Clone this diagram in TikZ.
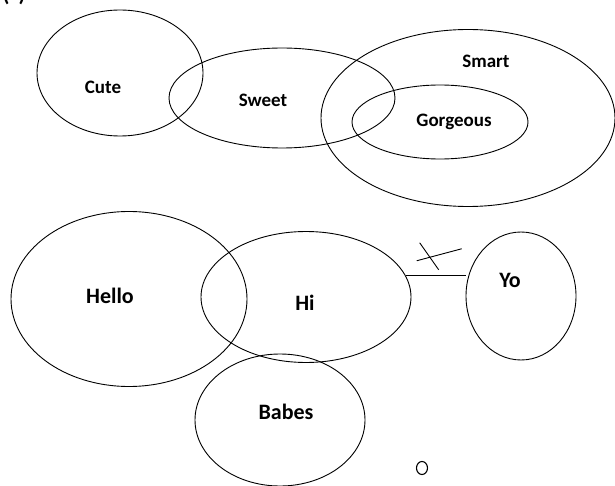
\documentclass[tikz,border=0pt]{standalone}
\usepackage{fontspec}
\setmainfont{Carlito}
\usetikzlibrary{shapes.geometric}

\begin{document}
\begin{tikzpicture}[
    x=1pt, y=-1pt,
    blob/.style={draw, ellipse, inner sep=0pt, line width=0.9pt},
    biglabel/.style={anchor=base, font=\bfseries\fontsize{22}{24}\selectfont},
    smalllabel/.style={anchor=base, font=\bfseries\fontsize{19}{21}\selectfont}
]
    \useasboundingbox (0,0) rectangle (615,486);

    % cut-off caption
    \node[biglabel] (caption) at (14,2) {(\hspace{9pt})};

    % upper group
    \node[blob, minimum width=166, minimum height=126] (cute) at (120,73) {};
    \node[blob, minimum width=226, minimum height=100] (sweet) at (282,98) {};
    \node[blob, minimum width=294, minimum height=177] (smart) at (468,118) {};
    \node[blob, minimum width=176, minimum height=74] (gorgeous) at (440,122) {};

    \node[smalllabel] (cutelbl) at (103,94) {Cute};
    \node[smalllabel] (sweetlbl) at (263,107) {Sweet};
    \node[smalllabel] (smartlbl) at (486,68) {Smart};
    \node[smalllabel] (gorgeouslbl) at (454,127) {Gorgeous};

    % lower group
    \node[blob, minimum width=236, minimum height=175] (hello) at (129,299) {};
    \node[blob, minimum width=210, minimum height=131] (hi) at (306,297) {};
    \node[blob, minimum width=110, minimum height=128] (yo) at (521,296) {};
    \node[blob, minimum width=170, minimum height=132] (babes) at (280,420) {};

    \node[biglabel] (hellolbl) at (110,303) {Hello};
    \node[biglabel] (hilbl) at (305,310) {Hi};
    \node[biglabel] (yolbl) at (510,287) {Yo};
    \node[biglabel] (babeslbl) at (286,419) {Babes};

    \node[draw, ellipse, inner sep=0pt, line width=1.1pt,
          minimum width=11, minimum height=13] (ring) at (422,468) {};

    % crossed-out link
    \draw[line width=0.9pt] (hi.12) -- (yo.west |- hi.12) coordinate[midway] (cut);
    \begin{scope}[shift={(cut)}, line width=0.9pt]
        \draw (-19,-15) -- (26,-27);
        \draw (-16,-33) -- (3,-6);
    \end{scope}
\end{tikzpicture}
\end{document}
